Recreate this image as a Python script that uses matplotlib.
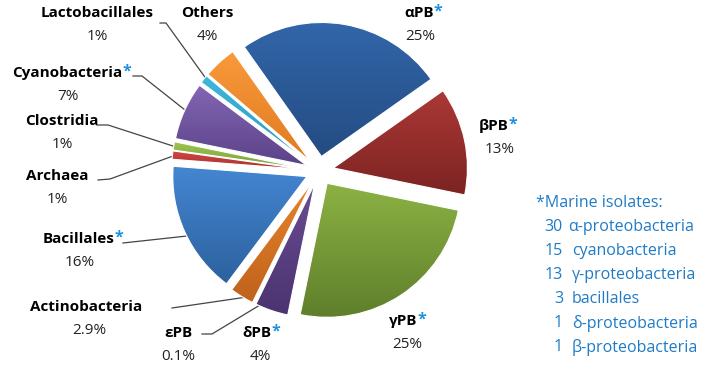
import numpy as np
import matplotlib.pyplot as plt
from matplotlib.colors import LinearSegmentedColormap

plt.rcParams['font.family'] = ['Open Sans', 'DejaVu Sans']

# ---- data -------------------------------------------------------------
groups = ['αPB', 'βPB', 'γPB', 'δPB', 'εPB', 'Actinobacteria', 'Bacillales',
          'Archaea', 'Clostridia', 'Cyanobacteria', 'Lactobacillales', 'Others']
shares = [25, 13, 25, 4, 0.1, 2.9, 16, 1, 1, 7, 1, 4]
marine = [True, True, True, True, False, False, True,
          False, False, True, False, False]

marine_counts = [30, 15, 13, 3, 1, 1]
marine_groups = ['α-proteobacteria', 'cyanobacteria', 'γ-proteobacteria',
                 'bacillales', 'δ-proteobacteria', 'β-proteobacteria']

# ---- style / layout ---------------------------------------------------
# (light top, dark bottom) gradient colours per slice
slice_colors = [
    ('#3266aa', '#244c82'),   # alpha
    ('#ab3936', '#7c2322'),   # beta
    ('#8cb244', '#5f7f2b'),   # gamma
    ('#6a4c93', '#4a3470'),   # delta
    ('#36a3ba', '#237d92'),   # epsilon
    ('#e8842c', '#bf621b'),   # actino
    ('#4486d2', '#2d619e'),   # bacillales
    ('#d04743', '#a5302d'),   # archaea
    ('#9cc451', '#78a03a'),   # clostridia
    ('#8366b4', '#5b4287'),   # cyano
    ('#3fb8dc', '#2b98bd'),   # lacto
    ('#f99a3c', '#e07a20'),   # others
]
explode = [0.11, 0.11, 0.11, 0.1, 0.1, 0.1, 0.1, 0.1, 0.1, 0.1, 0.1, 0.1]

W, H = 709, 366
CX, CY, R = 319, 171, 134          # pie centre / radius in pixels


def px(x, y):
    """image pixel -> data coords (pie radius = 1)"""
    return (x - CX) / R, (CY - y) / R


# name label centre (pixels), pct label centre, leader line
label_pos = {
    'αPB': ((419, 13), (420, 36), None),
    'βPB': ((494, 126), (500, 149), None),
    'γPB': ((403, 321), (407, 345), None),
    'δPB': ((257, 333), (260, 356), None),
    'εPB': ((178, 333), (178, 356), [(202, 334), (212, 334), (260, 305)]),
    'Actinobacteria': ((86, 307), (89, 331), [(172, 308), (247, 297)]),
    'Bacillales': ((79, 239), (80, 263), [(123, 243), (187, 236)]),
    'Archaea': ((57, 176), (57, 199), [(98, 180), (110, 179), (173, 156)]),
    'Clostridia': ((62, 121), (62, 144), [(97, 125), (108, 125), (176, 147)]),
    'Cyanobacteria': ((67, 73), (68, 96), [(133, 76), (142, 76), (185, 110)]),
    'Lactobacillales': ((97, 13), (97, 36), [(160, 23), (166, 23), (207, 80)]),
    'Others': ((207, 13), (207, 36), None),
}

fig = plt.figure(figsize=(W / 100, H / 100), dpi=100)
ax = fig.add_axes([0, 0, 1, 1])

wedges, _ = ax.pie(shares, explode=explode, startangle=125.2,
                   counterclock=False, colors=[c[0] for c in slice_colors],
                   wedgeprops=dict(edgecolor='white', linewidth=0.8))

# vertical gradient fill clipped to each wedge
grad = np.linspace(0, 1, 256).reshape(-1, 1)
for w, (light, dark) in zip(wedges, slice_colors):
    (x0, y0), (x1, y1) = w.get_path().get_extents().get_points()
    cmap = LinearSegmentedColormap.from_list('g', [dark, light])
    im = ax.imshow(grad, extent=[x0, x1, y0, y1], origin='lower',
                   cmap=cmap, aspect='auto', zorder=w.get_zorder() + 0.1)
    im.set_clip_path(w)
    w.set_facecolor('none')
    w.set_zorder(w.get_zorder() + 0.2)

# labels
for name, val, star in zip(groups, shares, marine):
    (nx, ny), (qx, qy), line = label_pos[name]
    t = ax.text(*px(nx, ny), name, ha='center', va='center',
                fontsize=11, fontweight='bold', color='black')
    if star:
        ax.annotate('*', xy=(1, 1), xycoords=t, xytext=(0, 1.5),
                    textcoords='offset points', ha='left', va='top',
                    fontsize=11.5, fontweight='bold', color='#1f8fe0')
    ax.text(*px(qx, qy), f'{val:g}%', ha='center', va='center',
            fontsize=11, color='#222222')
    if line:
        xs, ys = zip(*[px(x, y) for x, y in line])
        ax.plot(xs, ys, color='#444444', linewidth=0.9, zorder=1)

# marine isolates note
blue = '#1f7bc6'
ax.text(*px(536, 203), '*Marine isolates:', ha='left', va='center',
        fontsize=11.5, color=blue)
for i, (n, g) in enumerate(zip(marine_counts, marine_groups)):
    y = 227 + i * 24
    ax.text(*px(563, y), str(n), ha='right', va='center',
            fontsize=11.5, color=blue)
    ax.text(*px(568 if i == 0 else 572, y), g, ha='left', va='center',
            fontsize=11.5, color=blue)

ax.set_xlim(px(0, 0)[0], px(W, 0)[0])
ax.set_ylim(px(0, H)[1], px(0, 0)[1])
ax.set_aspect('auto')
ax.axis('off')

fig.savefig('out.png', dpi=100, facecolor='white')
